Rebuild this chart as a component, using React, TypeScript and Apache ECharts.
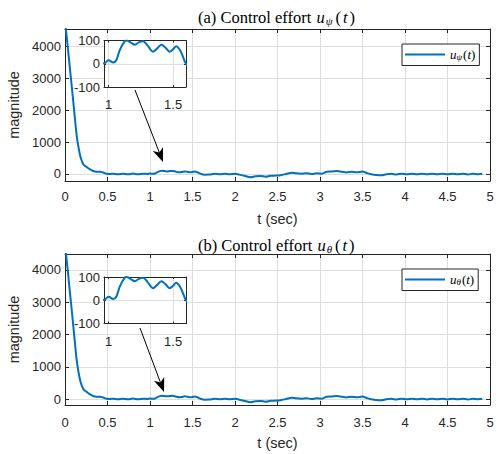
import React, { useEffect, useRef } from 'react';
import * as echarts from 'echarts';

// time samples (s)
const tValues = [
  0.0, 0.01, 0.02, 0.04, 0.06, 0.08, 0.1, 0.12, 0.14, 0.16, 0.18, 0.2, 0.22, 0.25, 0.29, 0.33, 0.37, 0.41, 0.45, 0.49,
  0.53, 0.57, 0.62, 0.68, 0.74, 0.8, 0.86, 0.92, 0.965, 1.0, 1.037, 1.06, 1.088, 1.126, 1.14, 1.17, 1.203, 1.235, 1.267,
  1.3, 1.344, 1.375, 1.409, 1.44, 1.473, 1.5, 1.524, 1.557, 1.58, 1.6, 1.64, 1.7, 1.76, 1.82, 1.88, 1.94, 2.0, 2.05,
  2.12, 2.18, 2.24, 2.3, 2.36, 2.42, 2.49, 2.55, 2.6, 2.67, 2.72, 2.78, 2.84, 2.9, 2.96, 3.02, 3.08, 3.14, 3.2, 3.26,
  3.31, 3.37, 3.43, 3.5, 3.55, 3.6, 3.66, 3.72, 3.78, 3.84, 3.9, 3.96, 4.02, 4.08, 4.14, 4.2, 4.26, 4.32, 4.38, 4.44,
  4.5, 4.56, 4.62, 4.68, 4.74, 4.8, 4.86, 4.91,
];
// control effort u_psi(t)
const uPsiValues = [
  4800, 4550, 4300, 3784, 3250, 2737, 2200, 1650, 1150, 820, 560, 400, 290, 229, 150, 95, 72, 70, 45, 5,
  0, 10, -10, 10, -10, 12, -8, 10, 1, 15, 5, 15, 60, 97, 100, 92, 82, 92, 97,
  80, 52, 65, 82, 70, 52, 62, 75, 55, 25, 0, -20, -15, 5, -5, 10, -5, 5, -20,
  -60, -100, -70, -60, -85, -55, -50, -30, 0, 40, 20, 10, 25, 0, 20, 10, 70, 80, 95, 70,
  50, 70, 55, 75, 30, -10, -30, -40, -10, 5, -15, 10, -5, 10, -10, 8, -12, 10, -10, 8,
  -12, 10, -10, 10, -15, 8, -10, 5,
];
// control effort u_theta(t)
const uThetaValues = [
  4800, 4550, 4300, 3784, 3250, 2737, 2200, 1650, 1150, 820, 560, 400, 290, 229, 150, 95, 72, 70, 45, 5,
  0, 10, -10, 10, -10, 12, -8, 10, 1, 15, 5, 15, 60, 97, 100, 92, 82, 92, 97,
  80, 52, 65, 82, 70, 52, 62, 75, 55, 25, 0, -20, -15, 5, -5, 10, -5, 5, -20,
  -60, -100, -70, -60, -85, -55, -50, -30, 0, 40, 20, 10, 25, 0, 20, 10, 70, 80, 95, 70,
  50, 70, 55, 75, 30, -10, -30, -40, -10, 5, -15, 10, -5, 10, -10, 8, -12, 10, -10, 8,
  -12, 10, -10, 10, -15, 8, -10, 5,
];

const mainXTicks = [0, 0.5, 1, 1.5, 2, 2.5, 3, 3.5, 4, 4.5, 5];
const mainYTicks = [0, 1000, 2000, 3000, 4000];
const insetXTicks = [1, 1.5];
const insetYTicks = [-100, 0, 100];

const AXIS_COLOR = '#262626';
const GRID_COLOR = '#dedede';
const LINE_COLOR = '#0072BD';
const SANS = 'Liberation Sans, Arial, sans-serif';
const SERIF = 'Liberation Serif, Times New Roman, serif';

function pairs(ts: number[], us: number[]) {
  return ts.map((t, i) => [t, us[i]]);
}

function axis(
  gridIndex: number,
  min: number,
  max: number,
  ticks: number[],
  position: string,
  primary: boolean,
  tickLen: number,
  margin: number,
  z: number
) {
  return {
    type: 'value',
    gridIndex,
    min,
    max,
    position,
    z,
    axisLine: { show: true, onZero: false, lineStyle: { color: AXIS_COLOR, width: 1 } },
    axisTick: { show: true, inside: true, length: tickLen, customValues: ticks, lineStyle: { color: AXIS_COLOR, width: 1 } },
    axisLabel: {
      show: primary,
      customValues: ticks,
      color: AXIS_COLOR,
      fontSize: 13,
      fontFamily: SANS,
      margin,
      formatter: (v: number) => String(v),
    },
    splitLine: { show: primary, lineStyle: { color: GRID_COLOR, width: 1 } },
  };
}

function arrow(x1: number, y1: number, x2: number, y2: number) {
  const dx = x2 - x1;
  const dy = y2 - y1;
  const L = Math.hypot(dx, dy);
  const ux = dx / L;
  const uy = dy / L;
  const hl = 14;
  const hw = 5.5;
  const bx = x2 - ux * hl;
  const by = y2 - uy * hl;
  const px = -uy;
  const py = ux;
  return [
    {
      type: 'line',
      z: 100,
      shape: { x1, y1, x2: bx + ux * 4, y2: by + uy * 4 },
      style: { stroke: '#000', lineWidth: 1 },
    },
    {
      type: 'polygon',
      z: 100,
      shape: {
        points: [
          [x2, y2],
          [bx + px * hw, by + py * hw],
          [x2 - ux * hl * 0.72, y2 - uy * hl * 0.72],
          [bx - px * hw, by - py * hw],
        ],
      },
      style: { fill: '#000' },
    },
  ];
}

const richText = {
  i: { fontStyle: 'italic', fontFamily: SERIF, fontSize: 16.5, color: '#000', padding: [0, 1, 0, 1] },
  s: { fontStyle: 'italic', fontFamily: SERIF, fontSize: 11, color: '#000', verticalAlign: 'bottom', padding: [6, 2, 0, 0] },
  n: { fontFamily: SERIF, fontSize: 16.5, color: '#000', padding: [0, 1, 0, 1] },
};
const legendRich = {
  i: { fontStyle: 'italic', fontFamily: SERIF, fontSize: 13, color: '#000' },
  s: { fontStyle: 'italic', fontFamily: SERIF, fontSize: 9, color: '#000', verticalAlign: 'bottom', padding: [5, 1, 0, 0] },
  n: { fontFamily: SERIF, fontSize: 13, color: '#000' },
};

export default function App() {
  const ref = useRef<HTMLDivElement>(null);
  useEffect(() => {
    if (!ref.current) return;
    const chart = echarts.init(ref.current, undefined, { renderer: 'svg' });
    const psi = pairs(tValues, uPsiValues);
    const theta = pairs(tValues, uThetaValues);

    const grids = [
      { left: 65, top: 29, width: 425, height: 152 },
      { left: 104, top: 40.5, width: 82, height: 46.5 },
      { left: 65, top: 254, width: 425, height: 151 },
      { left: 104, top: 277, width: 82, height: 46.5 },
    ];
    const yRanges = [
      [-220, 4550],
      [-100, 100],
      [-186, 4496],
      [-100, 100],
    ];

    const xAxes: any[] = [];
    const yAxes: any[] = [];
    grids.forEach((g, gi) => {
      const inset = gi % 2 === 1;
      const z = inset ? 11 : 1;
      const xt = inset ? insetXTicks : mainXTicks;
      const yt = inset ? insetYTicks : mainYTicks;
      const xmin = inset ? 0.965 : 0;
      const xmax = inset ? 1.6 : 5;
      const tl = inset ? 2 : 4;
      const xMargin = inset ? 11 : gi === 0 ? 9 : 11;
      const xa: any = axis(gi, xmin, xmax, xt, 'bottom', true, tl, xMargin, z);
      const ya: any = axis(gi, yRanges[gi][0], yRanges[gi][1], yt, 'left', true, tl, 4, z);
      if (!inset) {
        xa.name = 't (sec)';
        xa.nameLocation = 'middle';
        xa.nameGap = 30;
        xa.nameTextStyle = { color: AXIS_COLOR, fontSize: 14.5, fontFamily: SANS };
        ya.name = 'magnitude';
        ya.nameLocation = 'middle';
        ya.nameGap = 35;
        ya.nameTextStyle = { color: AXIS_COLOR, fontSize: 14.5, fontFamily: SANS };
      }
      xAxes.push(xa);
      xAxes.push(axis(gi, xmin, xmax, xt, 'top', false, tl, 8, z));
      yAxes.push(ya);
      yAxes.push(axis(gi, yRanges[gi][0], yRanges[gi][1], yt, 'right', false, tl, 8, z));
    });

    const lineSeries = (name: string, data: number[][], gi: number) => ({
      type: 'line',
      name,
      data,
      xAxisIndex: gi * 2,
      yAxisIndex: gi * 2,
      symbol: 'none',
      showSymbol: false,
      smooth: 0.35,
      clip: true,
      z: gi % 2 === 1 ? 12 : 2,
      lineStyle: { color: LINE_COLOR, width: 2 },
      itemStyle: { color: LINE_COLOR },
    });

    const legendBase = {
      orient: 'horizontal',
      left: 402,
      backgroundColor: '#fff',
      borderColor: AXIS_COLOR,
      borderWidth: 1,
      borderRadius: 0,
      padding: [4, 4, 4, 3],
      icon: 'rect',
      itemWidth: 40,
      itemHeight: 2,
      itemGap: 0,
      textStyle: { fontFamily: SERIF, fontSize: 13, color: '#000', rich: legendRich },
      formatter: (name: string) =>
        name === 'psi' ? '{i|u}{s|ψ}{n|(}{i|t}{n|)}' : '{i|u}{s|θ}{n|(}{i|t}{n|)}',
    };

    chart.setOption({
      animation: false,
      backgroundColor: '#fff',
      title: [
        {
          text: '(a) Control effort {i|u}{s|ψ}{n|(}{i|t}{n|)}',
          left: 193,
          top: 4,
          textStyle: { fontFamily: SERIF, fontSize: 16.5, fontWeight: 'normal', color: '#000', rich: richText },
        },
        {
          text: '(b) Control effort {i|u}{s|θ}{n|(}{i|t}{n|)}',
          left: 193,
          top: 232,
          textStyle: { fontFamily: SERIF, fontSize: 16.5, fontWeight: 'normal', color: '#000', rich: richText },
        },
      ],
      legend: [
        { ...legendBase, top: 44, data: ['psi'] },
        { ...legendBase, top: 269, data: ['theta'] },
      ],
      grid: grids.map((g, gi) => ({
        ...g,
        show: gi % 2 === 1,
        backgroundColor: '#fff',
        borderWidth: 0,
        containLabel: false,
        outerBoundsMode: 'none',
        z: gi % 2 === 1 ? 10 : 0,
      })),
      xAxis: xAxes,
      yAxis: yAxes,
      series: [
        lineSeries('psi', psi, 0),
        lineSeries('psi_inset', psi, 1),
        lineSeries('theta', theta, 2),
        lineSeries('theta_inset', theta, 3),
      ],
      graphic: [...arrow(135, 90, 163, 162), ...arrow(140, 328, 164, 392)],
    });
    return () => chart.dispose();
  }, []);
  return <div ref={ref} style={{ position: 'fixed', left: 0, top: 0, width: 501, height: 454 }} />;
}
